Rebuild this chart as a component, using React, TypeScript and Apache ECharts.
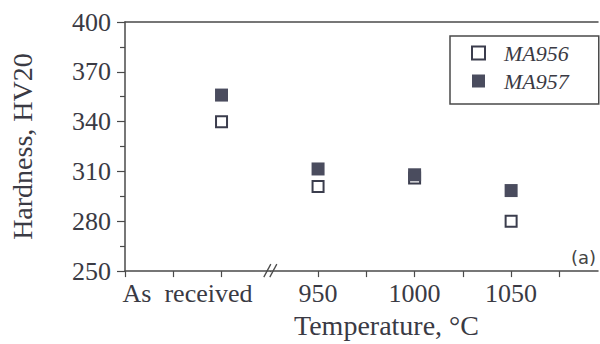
import React, { useEffect, useRef } from "react";
import * as echarts from "echarts";

const tempPositions = [900, 950, 1000, 1050];
const tempLabels = ["As  received", "950", "1000", "1050"];
const ma956 = [340, 301, 306, 280];
const ma957 = [356, 311.5, 308, 298.5];
const yTicks = [250, 280, 310, 340, 370, 400];
const breakAt = 925;

const SERIF = "'Liberation Serif', 'DejaVu Serif', serif";
const INK = "#3a3a44";
const AXIS = "#4a4a4a";

export default function App() {
  const ref = useRef<HTMLDivElement>(null);
  useEffect(() => {
    if (!ref.current) return;
    const chart = echarts.init(ref.current, undefined, { renderer: "svg" });
    const pts = (vals: number[]) => tempPositions.map((x, i) => [x, vals[i]]);
    chart.setOption({
      animation: false,
      backgroundColor: "#ffffff",
      grid: { left: 124, right: 2, top: 22, bottom: 67 },
      legend: {
        left: 450,
        top: 36,
        orient: "vertical",
        borderColor: AXIS,
        borderWidth: 1.5,
        padding: [6, 30, 12, 21],
        itemGap: 6,
        itemWidth: 13,
        itemHeight: 13,
        textStyle: {
          fontFamily: SERIF,
          fontStyle: "italic",
          fontSize: 22,
          lineHeight: 22,
          color: INK,
          padding: [0, 0, 0, 14],
        },
        data: ["MA956", "MA957"],
      },
      xAxis: [
        {
          type: "value",
          min: 850,
          max: 1095,
          interval: 25,
          splitLine: { show: false },
          axisLine: { show: true, lineStyle: { color: AXIS, width: 1.5 } },
          axisTick: { show: true, length: 6, lineStyle: { color: AXIS, width: 1.2 } },
          axisLabel: {
            margin: 9,
            fontFamily: SERIF,
            fontSize: 26,
            color: INK,
            showMaxLabel: false,
            formatter: (v: number) => {
              const i = tempPositions.indexOf(v);
              if (i < 0) return "";
              if (i === 0) return "{a|" + tempLabels[0] + "}";
              return tempLabels[i];
            },
            rich: {
              a: { fontFamily: SERIF, fontSize: 26, color: INK, padding: [0, 68, 0, 0] },
            },
          },
          name: "Temperature, °C",
          nameLocation: "middle",
          nameGap: 38,
          nameTextStyle: {
            fontFamily: SERIF,
            fontSize: 28,
            color: INK,
            padding: [0, 0, 0, 50],
          },
        },
        {
          type: "value",
          position: "top",
          min: 850,
          max: 1095,
          splitLine: { show: false },
          axisLine: { show: true, lineStyle: { color: AXIS, width: 1.5 } },
          axisTick: { show: false },
          axisLabel: { show: false },
        },
      ],
      yAxis: {
        type: "value",
        min: yTicks[0],
        max: yTicks[yTicks.length - 1],
        interval: 30,
        splitLine: { show: false },
        axisLine: { show: true, lineStyle: { color: AXIS, width: 1.5 } },
        axisTick: { show: true, length: 8, lineStyle: { color: AXIS, width: 1.2 } },
        minorTick: { show: true, splitNumber: 2, length: 5, lineStyle: { color: AXIS, width: 1.2 } },
        axisLabel: { margin: 14, fontFamily: SERIF, fontSize: 26, color: INK },
        name: "Hardness, HV20",
        nameLocation: "middle",
        nameGap: 89,
        nameTextStyle: { fontFamily: SERIF, fontSize: 28, color: INK },
      },
      series: [
        {
          name: "MA956",
          type: "scatter",
          symbol: "rect",
          symbolSize: 11,
          itemStyle: { color: "#ffffff", borderColor: "#3b3d4d", borderWidth: 2, opacity: 1 },
          data: pts(ma956),
          z: 2,
        },
        {
          name: "MA957",
          type: "scatter",
          symbol: "rect",
          symbolSize: 13,
          itemStyle: { color: "#4a4c5e", opacity: 1 },
          data: pts(ma957),
          z: 3,
        },
      ],
    });
    const bp = chart.convertToPixel({ xAxisIndex: 0 }, breakAt) as number;
    const by = chart.convertToPixel({ yAxisIndex: 0 }, yTicks[0]) as number;
    chart.setOption({
      graphic: [
        { type: "rect", shape: { x: bp - 4, y: by + 1, width: 8, height: 8 }, style: { fill: "#ffffff" }, z: 100 },
        { type: "line", shape: { x1: bp - 6, y1: by + 6, x2: bp + 1, y2: by - 7 }, style: { stroke: AXIS, lineWidth: 1.3 }, z: 101 },
        { type: "line", shape: { x1: bp, y1: by + 6, x2: bp + 7, y2: by - 7 }, style: { stroke: AXIS, lineWidth: 1.3 }, z: 101 },
        {
          type: "text",
          right: 4,
          top: 248,
          style: { text: "(a)", font: "18px 'DejaVu Sans', sans-serif", fill: "#444" },
          z: 101,
        },
      ],
    });
    return () => chart.dispose();
  }, []);
  return (
    <div
      ref={ref}
      style={{ position: "fixed", left: 0, top: 0, width: 600, height: 344, background: "#fff" }}
    />
  );
}
